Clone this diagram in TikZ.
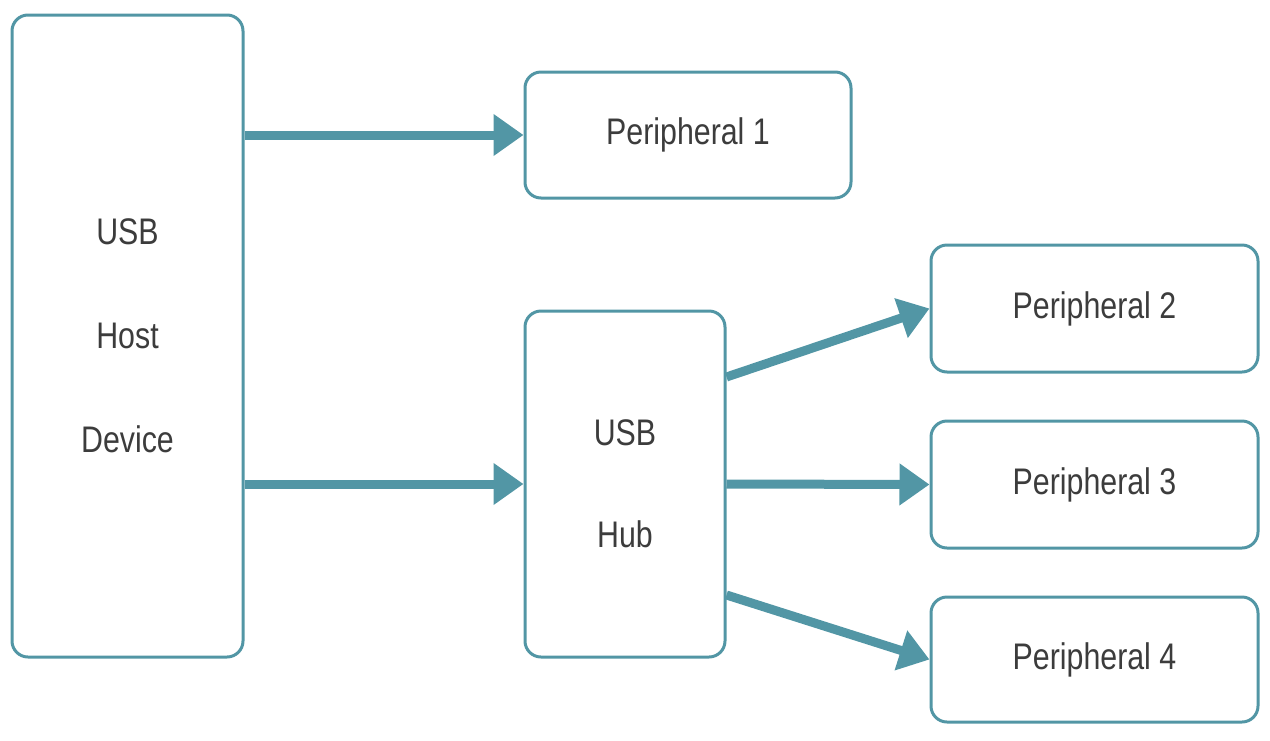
\documentclass[tikz,border=0pt]{standalone}
\usepackage{fontspec}
\setmainfont{Liberation Sans}[FakeStretch=0.82]
\usetikzlibrary{arrows.meta}
\definecolor{usbteal}{RGB}{82,150,165}
\definecolor{usbtext}{RGB}{60,60,60}
\tikzset{
  box/.style={draw=usbteal, line width=3pt, rounded corners=16pt, text=usbtext,
    font=\fontsize{37}{40}\selectfont, align=center, inner sep=0pt},
  link/.style={draw=usbteal, line width=9pt, -{Triangle[length=30pt,width=40pt]}}
}
\begin{document}
\begin{tikzpicture}[x=1pt,y=-1pt]
\useasboundingbox (0,0) rectangle (1270,740);

% boxes
\node[box, minimum width=231pt, minimum height=642pt] (host) at (127.5,336) {USB\\[64pt]Host\\[64pt]Device};
\node[box, minimum width=326pt, minimum height=126pt] (p1) at (688,135) {\raisebox{-5pt}{Peripheral 1}};
\node[box, minimum width=200pt, minimum height=346pt] (hub) at (625,484) {\raisebox{-2pt}{USB}\\[64pt]Hub};
\node[box, minimum width=327pt, minimum height=127pt] (p2) at (1094.5,308.5) {\raisebox{-5pt}{Peripheral 2}};
\node[box, minimum width=327pt, minimum height=127pt] (p3) at (1094.5,484.5) {\raisebox{-5pt}{Peripheral 3}};
\node[box, minimum width=327pt, minimum height=125pt] (p4) at (1094.5,659.5) {\raisebox{-5pt}{Peripheral 4}};

% connectors
\draw[link] (host.east |- p1.west) -- (p1.west);
\draw[link] (host.east |- hub.east) -- (hub.west);
\draw[link] (hub.east) -- (p3.west);
\draw[link] ([yshift=107pt]hub.east) -- (p2.west);
\draw[link] ([yshift=-111pt]hub.east) -- (p4.west);
\end{tikzpicture}
\end{document}
